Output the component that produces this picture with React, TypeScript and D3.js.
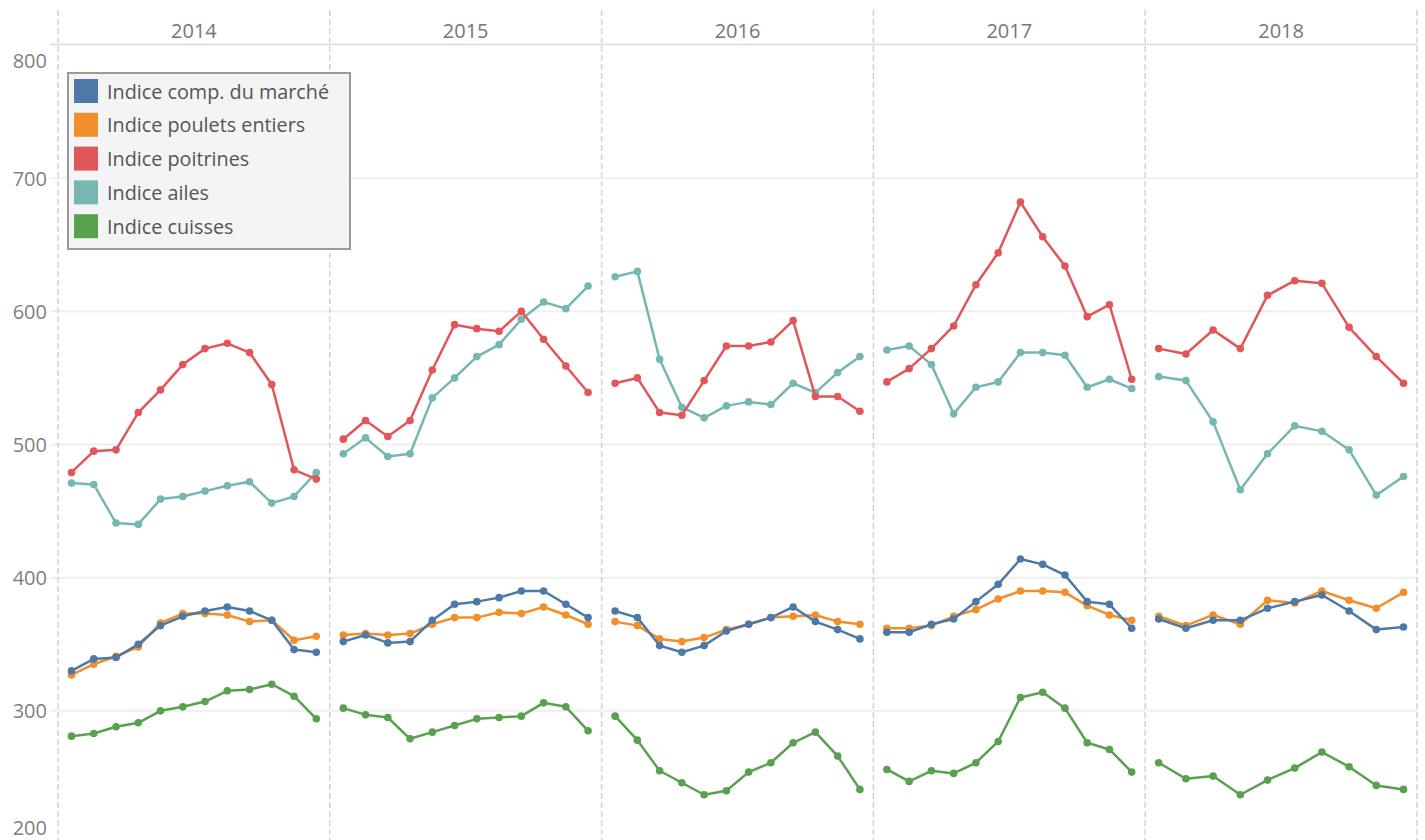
import React, { useEffect, useRef } from 'react';
import * as d3 from 'd3';

const years = ['2014', '2015', '2016', '2017', '2018'];
const seriesNames = [
  'Indice comp. du marché',
  'Indice poulets entiers',
  'Indice poitrines',
  'Indice ailes',
  'Indice cuisses',
];
const seriesColors = ['#4e79a7', '#f28e2b', '#e15759', '#76b7b2', '#59a14f'];
const yTicks = [200, 300, 400, 500, 600, 700, 800];

// one inner array per year (monthly values)
const marche = [
  [330, 339, 340, 350, 364, 371, 375, 378, 375, 368, 346, 344],
  [352, 357, 351, 352, 368, 380, 382, 385, 390, 390, 380, 370],
  [375, 370, 349, 344, 349, 360, 365, 370, 378, 367, 361, 354],
  [359, 359, 365, 369, 382, 395, 414, 410, 402, 382, 380, 362],
  [369, 362, 368, 368, 377, 382, 387, 375, 361, 363],
];
const entiers = [
  [327, 335, 341, 348, 366, 373, 373, 372, 367, 368, 353, 356],
  [357, 358, 357, 358, 365, 370, 370, 374, 373, 378, 372, 365],
  [367, 364, 354, 352, 355, 361, 365, 370, 371, 372, 367, 365],
  [362, 362, 364, 371, 376, 384, 390, 390, 389, 379, 372, 368],
  [371, 364, 372, 365, 383, 381, 390, 383, 377, 389],
];
const poitrines = [
  [479, 495, 496, 524, 541, 560, 572, 576, 569, 545, 481, 474],
  [504, 518, 506, 518, 556, 590, 587, 585, 600, 579, 559, 539],
  [546, 550, 524, 522, 548, 574, 574, 577, 593, 536, 536, 525],
  [547, 557, 572, 589, 620, 644, 682, 656, 634, 596, 605, 549],
  [572, 568, 586, 572, 612, 623, 621, 588, 566, 546],
];
const ailes = [
  [471, 470, 441, 440, 459, 461, 465, 469, 472, 456, 461, 479],
  [493, 505, 491, 493, 535, 550, 566, 575, 594, 607, 602, 619],
  [626, 630, 564, 528, 520, 529, 532, 530, 546, 539, 554, 566],
  [571, 574, 560, 523, 543, 547, 569, 569, 567, 543, 549, 542],
  [551, 548, 517, 466, 493, 514, 510, 496, 462, 476],
];
const cuisses = [
  [281, 283, 288, 291, 300, 303, 307, 315, 316, 320, 311, 294],
  [302, 297, 295, 279, 284, 289, 294, 295, 296, 306, 303, 285],
  [296, 278, 255, 246, 237, 240, 254, 261, 276, 284, 266, 241],
  [256, 247, 255, 253, 261, 277, 310, 314, 302, 276, 271, 254],
  [261, 249, 251, 237, 248, 257, 269, 258, 244, 241],
];

const allSeries = [marche, entiers, poitrines, ailes, cuisses];

const WIDTH = 1425;
const HEIGHT = 840;
const FONT = '"Open Sans", "Noto Sans", sans-serif';

const App: React.FC = () => {
  const ref = useRef<SVGSVGElement>(null);

  useEffect(() => {
    if (!ref.current) return;
    const svg = d3.select(ref.current);
    svg.selectAll('*').remove();

    const plotLeft = 58;
    const plotRight = 1417;
    const plotTop = 45;
    const plotBottom = 844;

    const panel = d3.scaleBand<string>().domain(years).range([plotLeft, plotRight]);
    const y = d3.scaleLinear().domain([200, 800]).range([plotBottom, plotTop]);

    // horizontal gridlines
    svg.append('g')
      .selectAll('line')
      .data(yTicks.filter(t => t > 200 && t < 800))
      .join('line')
      .attr('x1', 50)
      .attr('x2', plotRight)
      .attr('y1', d => y(d))
      .attr('y2', d => y(d))
      .attr('stroke', '#efefef')
      .attr('stroke-width', 2);

    // header bottom border
    svg.append('line')
      .attr('x1', 50)
      .attr('x2', plotRight)
      .attr('y1', y(800) - 0.5)
      .attr('y2', y(800) - 0.5)
      .attr('stroke', '#dcdcdc')
      .attr('stroke-width', 1.5);

    // panel separators
    const seps = years.map(yr => panel(yr) as number).concat([plotRight]);
    svg.append('g')
      .selectAll('line')
      .data(seps)
      .join('line')
      .attr('x1', d => d)
      .attr('x2', d => d)
      .attr('y1', 10)
      .attr('y2', HEIGHT)
      .attr('stroke', '#d3d3d3')
      .attr('stroke-width', 1.5)
      .attr('stroke-dasharray', '6,3');

    // year headers
    svg.append('g')
      .selectAll('text')
      .data(years)
      .join('text')
      .attr('x', d => (panel(d) as number) + panel.bandwidth() / 2)
      .attr('y', 30)
      .attr('text-anchor', 'middle')
      .attr('dominant-baseline', 'central')
      .style('font-family', FONT)
      .style('font-size', '20px')
      .style('fill', '#767676')
      .text(d => d);

    // y-axis labels (edge labels pulled inside)
    svg.append('g')
      .selectAll('text')
      .data(yTicks)
      .join('text')
      .attr('x', 47)
      .attr('y', d => Math.min(Math.max(y(d), plotTop + 15), 827))
      .attr('text-anchor', 'end')
      .attr('dominant-baseline', 'central')
      .style('font-family', FONT)
      .style('font-size', '20px')
      .style('fill', '#808080')
      .text(d => d);

    // series, drawn last-to-first so the market index is on top
    const order = [4, 3, 2, 1, 0];
    years.forEach((yr, yi) => {
      const x0 = panel(yr) as number;
      const x1 = x0 + panel.bandwidth();
      const g = svg.append('g');
      order.forEach(si => {
        const vals = allSeries[si][yi];
        const x = d3.scalePoint<number>()
          .domain(d3.range(vals.length))
          .range([x0 + 13.5, x1 - 13.5]);
        const line = d3.line<number>()
          .x((_, i) => x(i) as number)
          .y(d => y(d));
        g.append('path')
          .datum(vals)
          .attr('fill', 'none')
          .attr('stroke', seriesColors[si])
          .attr('stroke-width', 2.5)
          .attr('stroke-linejoin', 'round')
          .attr('d', line);
        g.selectAll(`circle.s${si}`)
          .data(vals)
          .join('circle')
          .attr('class', `s${si}`)
          .attr('cx', (_, i) => x(i) as number)
          .attr('cy', d => y(d))
          .attr('r', 3.8)
          .attr('fill', seriesColors[si]);
      });
    });

    // legend
    const legend = svg.append('g').attr('transform', 'translate(68,73)');
    legend.append('rect')
      .attr('width', 282)
      .attr('height', 176)
      .attr('fill', '#f4f4f4')
      .attr('stroke', '#9a9a9a')
      .attr('stroke-width', 2);

    seriesNames.forEach((name, i) => {
      const row = legend.append('g')
        .attr('transform', `translate(6, ${6 + i * 33.8})`);
      row.append('rect')
        .attr('width', 24)
        .attr('height', 24)
        .attr('fill', seriesColors[i]);
      row.append('text')
        .attr('x', 33)
        .attr('y', 12)
        .attr('dominant-baseline', 'central')
        .style('font-family', FONT)
        .style('font-size', '19.8px')
        .style('fill', '#555')
        .text(name);
    });
  }, []);

  return (
    <div style={{ position: 'absolute', left: 0, top: 0 }}>
      <svg ref={ref} width={WIDTH} height={HEIGHT} style={{ display: 'block', background: '#fff' }} />
    </div>
  );
};

export default App;
